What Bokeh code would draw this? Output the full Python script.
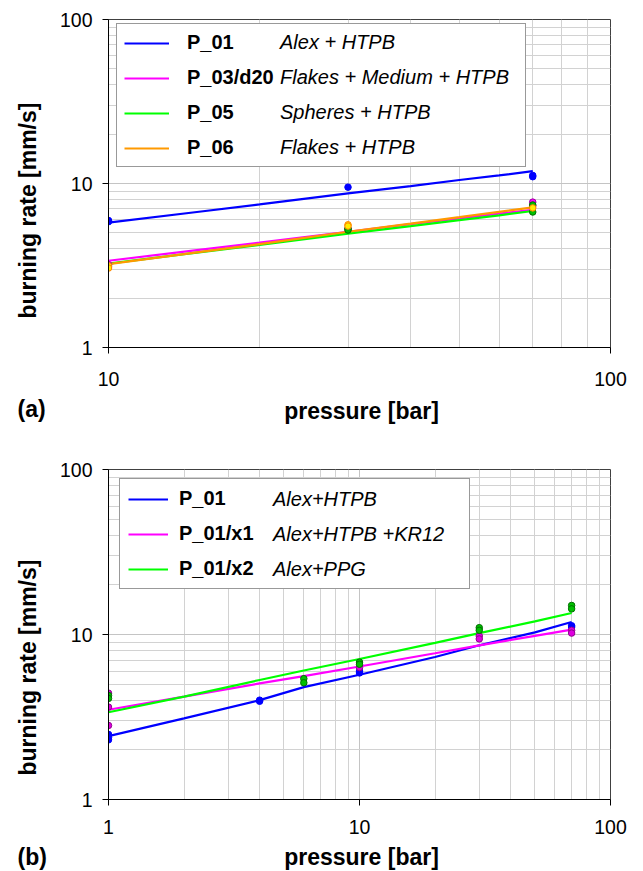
import math
from bokeh.plotting import figure
from bokeh.models import FixedTicker, Legend, LegendItem, Title, BasicTickFormatter, Range1d
from bokeh.core.properties import value
from bokeh.layouts import column
from bokeh.embed import file_html
from bokeh.resources import INLINE

FONT = "Liberation Sans"

# ---------------- panel (a) data ----------------
a_line_p = [10, 15, 20, 30, 40, 50, 60, 70]
a_p01_line = [5.78, 6.7, 7.45, 8.7, 9.65, 10.5, 11.2, 11.9]
a_p03_line = [3.38, 3.92, 4.36, 5.08, 5.65, 6.13, 6.55, 6.9]
a_p05_line = [3.25, 3.79, 4.22, 4.95, 5.5, 5.98, 6.4, 6.8]
a_p06_line = [3.22, 3.80, 4.27, 5.08, 5.7, 6.24, 6.72, 7.15]

a_p01_pts_p = [10, 10, 30, 70, 70]
a_p01_pts_r = [5.95, 5.85, 9.5, 11.2, 11.0]
a_p03_pts_p = [10, 30, 70, 70]
a_p03_pts_r = [3.2, 5.3, 7.7, 7.3]
a_p05_pts_p = [10, 30, 30, 70, 70]
a_p05_pts_r = [3.1, 5.3, 5.2, 7.4, 6.7]
a_p06_pts_p = [10, 10, 30, 30, 70]
a_p06_pts_r = [3.15, 3.05, 5.6, 5.5, 7.1]

a_names = ["P_01", "P_03/d20", "P_05", "P_06"]
a_descr = ["Alex + HTPB", "Flakes + Medium + HTPB", "Spheres + HTPB", "Flakes + HTPB"]

# ---------------- panel (b) data ----------------
b_line_p = [1, 2, 4, 6, 10, 20, 30, 50, 70]
b_p01_line = [2.42, 3.1, 4.0, 4.8, 5.7, 7.3, 8.6, 10.3, 11.9]
b_x1_line = [3.5, 4.2, 5.05, 5.6, 6.4, 7.7, 8.6, 9.8, 10.7]
b_x2_line = [3.38, 4.2, 5.3, 6.05, 7.1, 8.9, 10.2, 12.0, 13.5]

b_p01_pts_p = [1, 1, 1, 4, 4, 10, 10, 70, 70]
b_p01_pts_r = [2.48, 2.38, 2.3, 3.94, 4.0, 6.0, 5.85, 11.3, 11.1]
b_x1_pts_p = [1, 1, 1, 10, 30, 30, 70, 70]
b_x1_pts_r = [4.41, 3.63, 2.81, 6.3, 9.8, 9.4, 10.6, 10.2]
b_x2_pts_p = [1, 1, 6, 6, 10, 10, 30, 30, 70, 70]
b_x2_pts_r = [4.27, 4.1, 5.4, 5.1, 6.8, 6.6, 11.0, 10.6, 15.0, 14.3]

b_names = ["P_01", "P_01/x1", "P_01/x2"]
b_descr = ["Alex+HTPB", "Alex+HTPB +KR12", "Alex+PPG"]

y_major = [1, 10, 100]
y_minor = [2, 3, 4, 5, 6, 7, 8, 9, 20, 30, 40, 50, 60, 70, 80, 90]
xa_major = [10, 100]
xa_minor = [20, 30, 40, 50, 60, 70, 80, 90]
xb_major = [1, 10, 100]
xb_minor = [2, 3, 4, 5, 6, 7, 8, 9, 20, 30, 40, 50, 60, 70, 80, 90]

Y_TITLE = "burning rate [mm/s]"
X_TITLE = "pressure [bar]"

BLUE, MAG, GREEN, ORANGE = "#0000ff", "#ff00ff", "#00ff00", "#ff9900"


def make_fig(height, top, bottom, x_range, x_major, x_minor, x_standoff):
    p = figure(width=643, height=height, x_axis_type="log", y_axis_type="log",
               x_range=x_range, y_range=(1, 100), output_backend="svg",
               toolbar_location=None, min_border_left=107, min_border_right=33,
               min_border_top=top, min_border_bottom=bottom)
    p.xaxis.ticker = FixedTicker(ticks=x_major, minor_ticks=x_minor)
    p.yaxis.ticker = FixedTicker(ticks=y_major, minor_ticks=y_minor)
    for ax in (p.xaxis, p.yaxis):
        ax.formatter = BasicTickFormatter()
        ax.axis_line_color = "black"
        ax.axis_line_width = 1
        ax.major_tick_line_color = "black"
        ax.major_tick_out = 6
        ax.major_tick_in = 0
        ax.minor_tick_line_color = None
        ax.major_label_text_font = FONT
        ax.major_label_text_font_size = "19.5px"
        ax.major_label_text_color = "black"
    p.xaxis.major_label_standoff = x_standoff
    p.yaxis.major_label_standoff = 10
    for g in (p.xgrid, p.ygrid):
        g.grid_line_color = "#c4c4c4"
        g.minor_grid_line_color = "#d2d2d2"
    p.outline_line_color = "#404040"
    p.outline_line_width = 1
    p.background_fill_color = "white"
    p.border_fill_color = "white"
    return p


def add_legends(p, items, desc_items, loc_x, loc_y, desc_x, desc_y, pad, glyph_w, standoff, label_w):
    common = dict(padding=pad, spacing=12, glyph_height=20, label_height=20,
                  label_text_font=FONT, label_text_font_size="20px",
                  label_text_color="black", margin=0)
    leg = Legend(items=items, location=(loc_x, loc_y), glyph_width=glyph_w,
                 label_standoff=standoff, label_width=label_w,
                 label_text_font_style="bold", border_line_color="#333333",
                 border_line_width=1.5, background_fill_color="white",
                 background_fill_alpha=1.0, **common)
    p.add_layout(leg)
    leg2 = Legend(items=desc_items, location=(desc_x, desc_y), glyph_width=0,
                  label_standoff=0, label_width=20, label_text_font_style="italic",
                  border_line_color=None, background_fill_alpha=0.0, **common)
    p.add_layout(leg2)


def y_title(p, offset):
    p.add_layout(Title(text=Y_TITLE, align="left", offset=offset, standoff=28,
                       vertical_align="top",
                       text_font=FONT, text_font_size="23px", text_font_style="bold",
                       text_color="black"), "left")


def strip(height, panel_tag, tag_y, title_y):
    s = figure(width=643, height=height, x_range=Range1d(0, 643), y_range=Range1d(height, 0),
               output_backend="svg", toolbar_location=None, min_border=0,
               min_border_left=0, min_border_right=0, min_border_top=0, min_border_bottom=0,
               x_axis_location=None, y_axis_location=None)
    if hasattr(s, "frame_align"):
        s.frame_align = False
    s.frame_width = 643
    s.frame_height = height
    s.grid.visible = False
    s.outline_line_color = None
    s.background_fill_color = "white"
    s.border_fill_color = "white"
    s.text(x=[17], y=[tag_y], text=[panel_tag], text_font=value(FONT),
           text_font_size=value("23px"), text_font_style=value("bold"),
           text_align=value("left"), text_baseline=value("middle"), text_color="black")
    s.text(x=[361], y=[title_y], text=[X_TITLE], text_font=value(FONT),
           text_font_size=value("23px"), text_font_style=value("bold"),
           text_align=value("center"), text_baseline=value("middle"), text_color="black")
    return s


# ---------------- figure (a) ----------------
fa = make_fig(394, 19, 47, (10, 100), xa_major, xa_minor, 18)
series_a = [
    (a_p01_line, a_p01_pts_p, a_p01_pts_r, BLUE, BLUE, BLUE),
    (a_p03_line, a_p03_pts_p, a_p03_pts_r, MAG, MAG, "#a000a0"),
    (a_p05_line, a_p05_pts_p, a_p05_pts_r, GREEN, "#00c000", "#007000"),
    (a_p06_line, a_p06_pts_p, a_p06_pts_r, ORANGE, "#ffee00", "#ff8000"),
]
items_a, desc_a = [], []
for (ln, pp, pr, lc, fc, oc), name, d in zip(series_a, a_names, a_descr):
    r = fa.line(a_line_p, ln, line_color=lc, line_width=2.2)
    items_a.append(LegendItem(label=name, renderers=[r]))
    desc_a.append(LegendItem(label=d, renderers=[r]))
for (ln, pp, pr, lc, fc, oc) in series_a:
    fa.scatter(pp, pr, size=6.5, fill_color=fc, line_color=oc, line_width=1)

add_legends(fa, items_a, desc_a, 8, 180, 172, 188, 7, 45, 18, 331)
y_title(fa, 29)
strip_a = strip(46, "(a)", 14, 16)

# ---------------- figure (b) ----------------
fb = make_fig(402, 29, 43, (1, 100), xb_major, xb_minor, 14)
series_b = [
    (b_p01_line, b_p01_pts_p, b_p01_pts_r, BLUE, BLUE, BLUE),
    (b_x1_line, b_x1_pts_p, b_x1_pts_r, MAG, "#e000e0", "#900090"),
    (b_x2_line, b_x2_pts_p, b_x2_pts_r, GREEN, "#00c000", "#007000"),
]
items_b, desc_b = [], []
for (ln, pp, pr, lc, fc, oc), name, d in zip(series_b, b_names, b_descr):
    r = fb.line(b_line_p, ln, line_color=lc, line_width=2.2)
    items_b.append(LegendItem(label=name, renderers=[r]))
    desc_b.append(LegendItem(label=d, renderers=[r]))
for (ln, pp, pr, lc, fc, oc) in series_b:
    fb.scatter(pp, pr, size=6.5, fill_color=fc, line_color=oc, line_width=1)

add_legends(fb, items_b, desc_b, 11, 210, 165, 218, 8, 40, 11, 282)
y_title(fb, 24)
strip_b = strip(29, "(b)", 14, 14.5)

layout = column(fa, strip_a, fb, strip_b, spacing=0)
open("out.html", "w").write(file_html(layout, INLINE))
